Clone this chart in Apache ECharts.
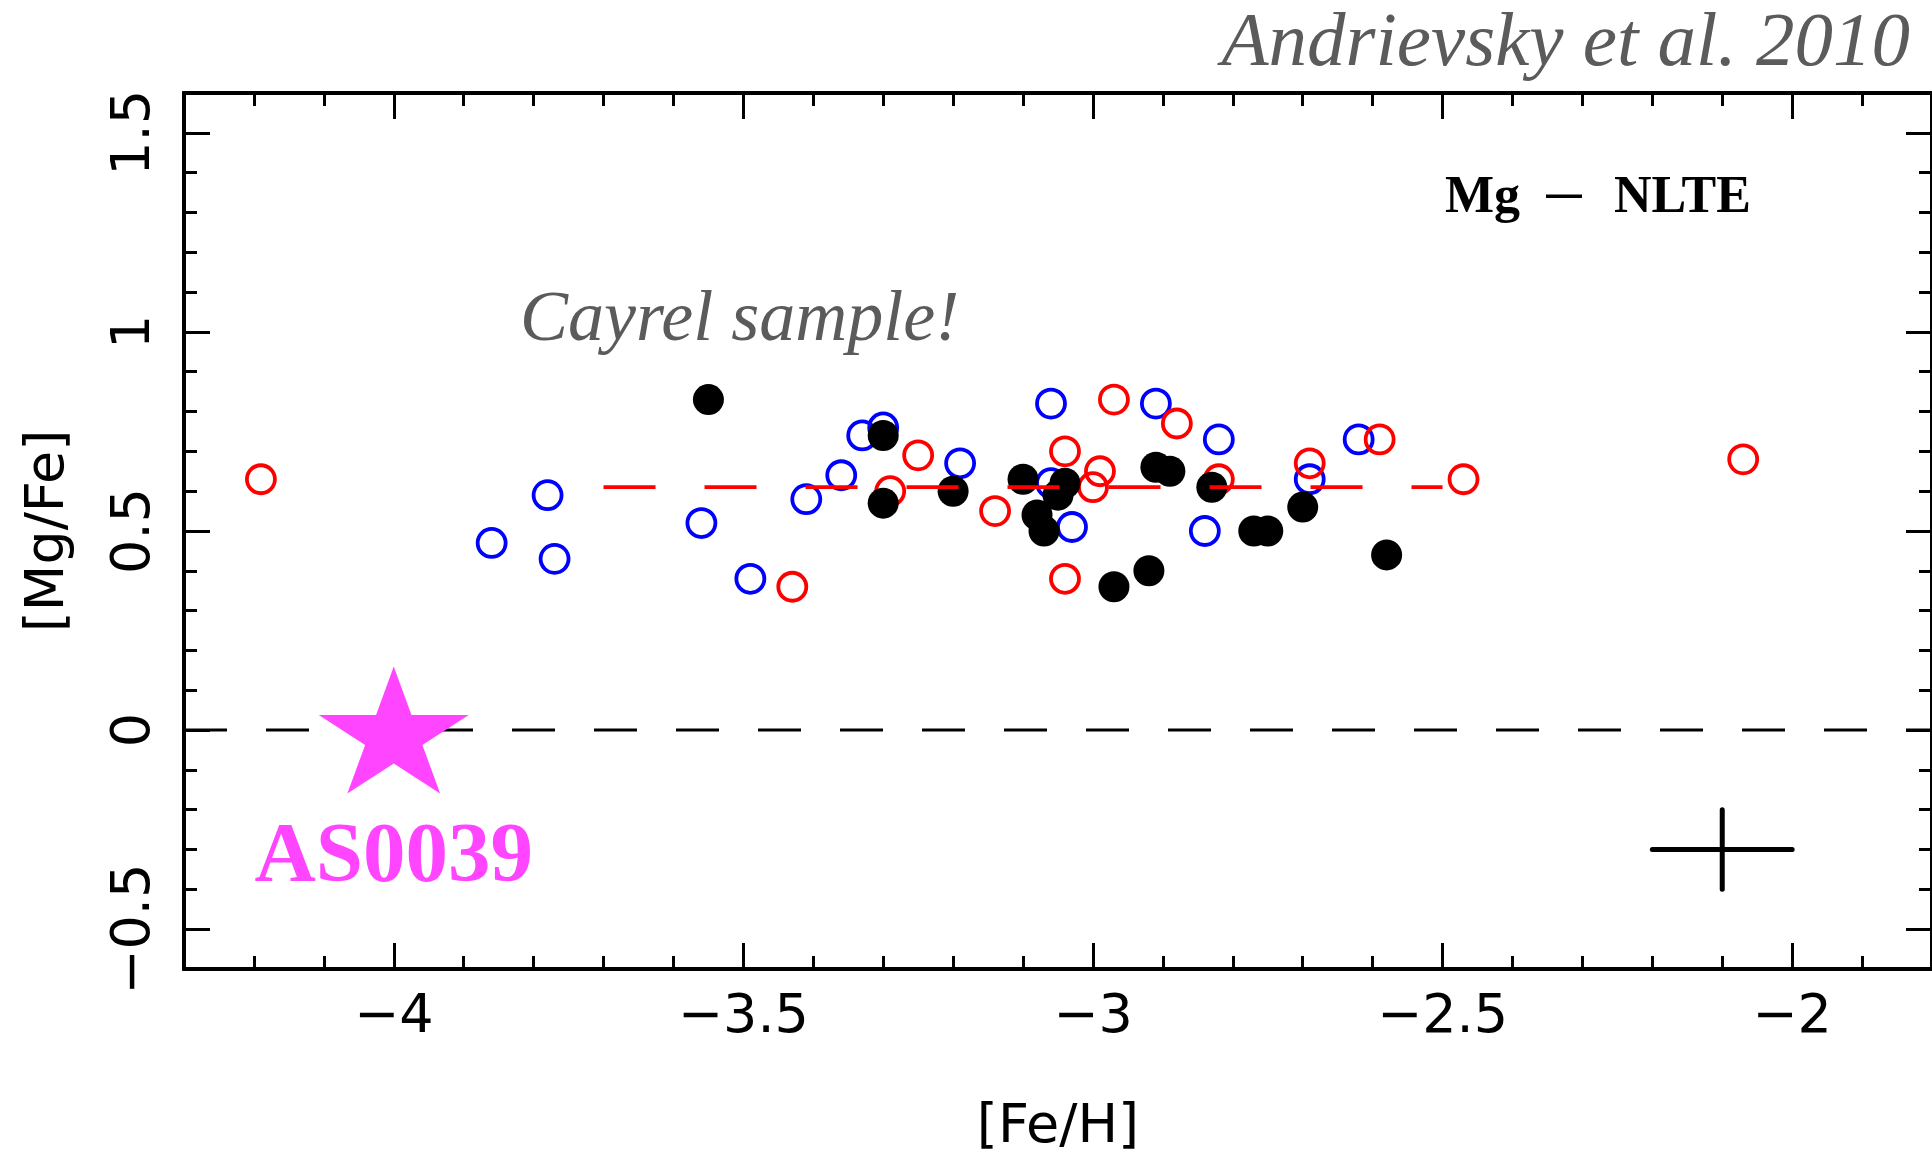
<!DOCTYPE html>
<html>
<head>
<meta charset="utf-8">
<title>[Mg/Fe] vs [Fe/H]</title>
<script src="https://cdn.jsdelivr.net/npm/echarts@6/dist/echarts.min.js"></script>
<style>
  html, body { margin: 0; padding: 0; background: #ffffff; }
  #chart { width: 1932px; height: 1160px; }
</style>
</head>
<body>
<div id="chart"></div>
<script>
// Each point is [ [Fe/H], [Mg/Fe] ]
const blueStars = [
  [-3.86, 0.47], [-3.78, 0.59], [-3.77, 0.43], [-3.56, 0.52], [-3.49, 0.38],
  [-3.41, 0.58], [-3.36, 0.64], [-3.33, 0.74], [-3.30, 0.76], [-3.19, 0.67],
  [-3.06, 0.82], [-3.06, 0.62], [-3.03, 0.51], [-2.91, 0.82], [-2.82, 0.73],
  [-2.84, 0.50], [-2.69, 0.63], [-2.62, 0.73]
];
const redStars = [
  [-4.19, 0.63], [-3.43, 0.36], [-3.29, 0.60], [-3.25, 0.69], [-3.14, 0.55],
  [-3.04, 0.70], [-3.04, 0.38], [-3.00, 0.61], [-2.99, 0.65], [-2.97, 0.83],
  [-2.88, 0.77], [-2.82, 0.63], [-2.69, 0.67], [-2.59, 0.73], [-2.47, 0.63],
  [-2.07, 0.68]
];
const blackStars = [
  [-3.55, 0.83], [-3.30, 0.74], [-3.30, 0.57], [-3.20, 0.60], [-3.10, 0.63],
  [-3.08, 0.54], [-3.07, 0.50], [-3.05, 0.59], [-3.04, 0.62], [-2.97, 0.36],
  [-2.92, 0.40], [-2.91, 0.66], [-2.89, 0.65], [-2.83, 0.61], [-2.77, 0.50],
  [-2.75, 0.50], [-2.70, 0.56], [-2.58, 0.44]
];
const as0039 = [[-4.0, 0.0]];
const as0039Name = 'AS0039';

// Mean of the sample and the solar reference level
const meanLine = [[-3.7, 0.61], [-2.5, 0.61]];
const zeroLine = [[-4.3, 0.0], [-1.8, 0.0]];

// Typical uncertainty cross
const errorBarX = [[-2.2, -0.3], [-2.0, -0.3]];
const errorBarY = [[-2.1, -0.2], [-2.1, -0.4]];

// Axis ranges and ticks
const xRange = [-4.3, -1.8];
const yRange = [-0.6, 1.6];
const xMajorTicks = [-4, -3.5, -3, -2.5, -2];
const xMinorTicks = [-4.2, -4.1, -4.0, -3.9, -3.8, -3.7, -3.6, -3.5, -3.4, -3.3, -3.2, -3.1,
                     -3.0, -2.9, -2.8, -2.7, -2.6, -2.5, -2.4, -2.3, -2.2, -2.1, -2.0, -1.9];
const yMajorTicks = [-0.5, 0, 0.5, 1, 1.5];
const yMinorTicks = [-0.5, -0.4, -0.3, -0.2, -0.1, 0.0, 0.1, 0.2, 0.3, 0.4, 0.5, 0.6, 0.7,
                     0.8, 0.9, 1.0, 1.1, 1.2, 1.3, 1.4, 1.5];

const xTitle = '[Fe/H]';
const yTitle = '[Mg/Fe]';
const credit = 'Andrievsky et al. 2010';
const sampleNote = 'Cayrel sample!';
const panelLabel = ['Mg', '\u2013', 'NLTE'];

const STAR_PATH = 'path://M0,-1 L0.2245,-0.309 L0.951,-0.309 L0.363,0.118 L0.588,0.809 ' +
                  'L0,0.382 L-0.588,0.809 L-0.363,0.118 L-0.951,-0.309 L-0.2245,-0.309 Z';

const AXIS_FONT = 'DejaVu Sans';
const SERIF = 'Liberation Serif';

function signed(v) {
  return v < 0 ? '\u2212' + String(Math.abs(v)) : String(v);
}

function frameAxis(kind, position, ticks, len, withLabels, extra) {
  const isX = kind === 'x';
  const range = isX ? xRange : yRange;
  const ax = {
    type: 'value',
    position: position,
    min: range[0],
    max: range[1],
    axisLine: { show: true, onZero: false, lineStyle: { color: '#000', width: 4 } },
    axisTick: {
      show: true, inside: true, length: len, customValues: ticks,
      lineStyle: { color: '#000', width: 3 }
    },
    axisLabel: withLabels ? {
      show: true, customValues: ticks, formatter: signed,
      fontFamily: AXIS_FONT, fontSize: 54, color: '#000', margin: 22,
      rotate: isX ? 0 : 90
    } : { show: false },
    splitLine: { show: false },
    minorTick: { show: false },
    minorSplitLine: { show: false }
  };
  return Object.assign(ax, extra || {});
}

const chart = echarts.init(document.getElementById('chart'), null, { renderer: 'canvas' });

const option = {
  backgroundColor: '#ffffff',
  animation: false,
  grid: { left: 184, top: 93, width: 1749, height: 877, containLabel: false },
  xAxis: [
    frameAxis('x', 'bottom', xMajorTicks, 26, true, {
      name: xTitle, nameLocation: 'middle', nameGap: 132,
      nameTextStyle: { fontFamily: AXIS_FONT, fontSize: 54, color: '#000' }
    }),
    frameAxis('x', 'bottom', xMinorTicks, 13, false),
    frameAxis('x', 'top', xMajorTicks, 26, false),
    frameAxis('x', 'top', xMinorTicks, 13, false)
  ],
  yAxis: [
    frameAxis('y', 'left', yMajorTicks, 26, true, {
      name: yTitle, nameLocation: 'middle', nameGap: 108, nameRotate: 90,
      nameTextStyle: { fontFamily: AXIS_FONT, fontSize: 54, color: '#000' }
    }),
    frameAxis('y', 'left', yMinorTicks, 13, false),
    frameAxis('y', 'right', yMajorTicks, 26, false),
    frameAxis('y', 'right', yMinorTicks, 13, false)
  ],
  series: [
    {
      type: 'scatter', data: blueStars, symbol: 'circle', symbolSize: 28,
      itemStyle: { color: 'rgba(0,0,0,0)', borderColor: '#0000ff', borderWidth: 3.8, opacity: 1 },
      z: 2, silent: true
    },
    {
      type: 'scatter', data: redStars, symbol: 'circle', symbolSize: 28,
      itemStyle: { color: 'rgba(0,0,0,0)', borderColor: '#ff0000', borderWidth: 3.8, opacity: 1 },
      z: 2, silent: true
    },
    {
      type: 'scatter', data: blackStars, symbol: 'circle', symbolSize: 31,
      itemStyle: { color: '#000000', opacity: 1 },
      z: 2, silent: true
    },
    {
      type: 'line', data: zeroLine, symbol: 'none', silent: true,
      lineStyle: { color: '#000', width: 3, type: [43, 39] }, z: 3
    },
    {
      type: 'line', data: meanLine, symbol: 'none', silent: true,
      lineStyle: { color: '#ff0000', width: 3.8, type: [52, 49] }, z: 4
    },
    {
      type: 'line', data: errorBarX, symbol: 'none', silent: true,
      lineStyle: { color: '#000', width: 5, cap: 'round' }, z: 4
    },
    {
      type: 'line', data: errorBarY, symbol: 'none', silent: true,
      lineStyle: { color: '#000', width: 5, cap: 'round' }, z: 4
    },
    {
      type: 'scatter', data: as0039, symbol: STAR_PATH, symbolSize: [150, 127],
      itemStyle: { color: '#ff45ff', opacity: 1 }, z: 5, silent: true,
      label: {
        show: true, position: 'bottom', distance: 23, formatter: as0039Name,
        fontFamily: SERIF, fontWeight: 'bold', fontSize: 85, color: '#ff45ff'
      }
    }
  ],
  graphic: [
    {
      type: 'text', x: 1910, y: 45, silent: true,
      style: { text: credit, fontFamily: SERIF, fontStyle: 'italic', fontSize: 77,
               fill: '#5b5b5b', align: 'right', verticalAlign: 'middle' }
    },
    {
      type: 'text', x: 520, y: 321, silent: true,
      style: { text: sampleNote, fontFamily: SERIF, fontStyle: 'italic', fontSize: 72,
               fill: '#5b5b5b', align: 'left', verticalAlign: 'middle' }
    },
    {
      type: 'text', x: 1445, y: 199, silent: true,
      style: { text: panelLabel[0], fontFamily: SERIF, fontWeight: 'bold', fontSize: 52,
               fill: '#000', align: 'left', verticalAlign: 'middle' }
    },
    {
      type: 'text', x: 1564, y: 195, silent: true,
      style: { text: panelLabel[1], fontFamily: SERIF, fontWeight: 'normal', fontSize: 70,
               fill: '#000', align: 'center', verticalAlign: 'middle' }
    },
    {
      type: 'text', x: 1614, y: 199, silent: true,
      style: { text: panelLabel[2], fontFamily: SERIF, fontWeight: 'bold', fontSize: 52,
               fill: '#000', align: 'left', verticalAlign: 'middle' }
    }
  ]
};

chart.setOption(option);
</script>
</body>
</html>
